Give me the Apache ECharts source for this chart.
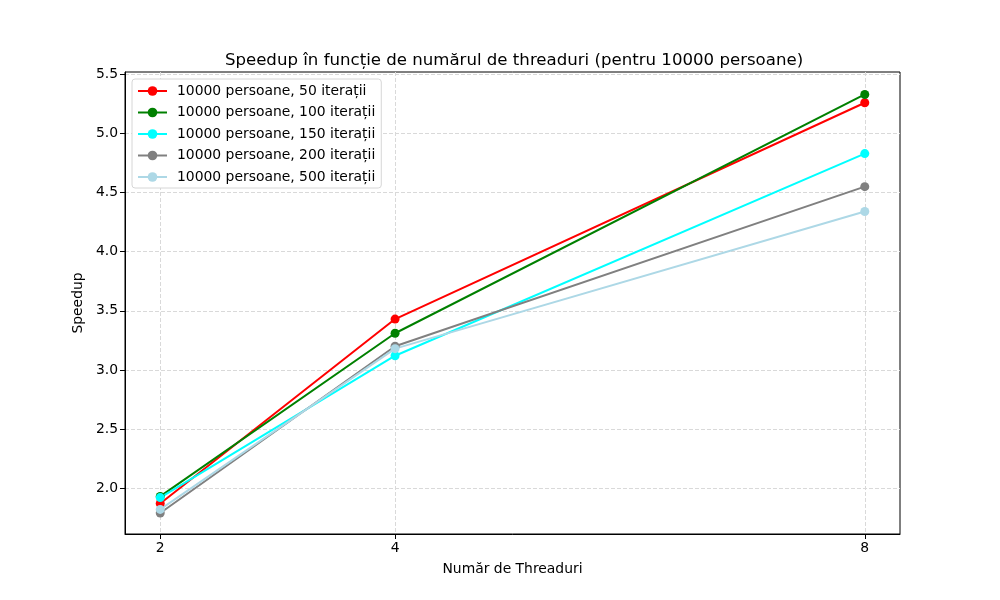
<!DOCTYPE html>
<html lang="ro">
<head>
    <meta charset="UTF-8">
    <title>Speedup</title>
    <script src="https://cdn.jsdelivr.net/npm/echarts@6/dist/echarts.min.js"></script>
    <style>
        html, body { margin: 0; padding: 0; background: #fff; }
        #graph { width: 1000px; height: 600px; }
    </style>
</head>
<body>
<div id="graph"></div>
<script>
    // data
    var threads = [2, 4, 8];
    var it50 = [1.87, 3.43, 5.26];
    var it100 = [1.93, 3.31, 5.33];
    var it150 = [1.92, 3.12, 4.83];
    var it200 = [1.79, 3.20, 4.55];
    var it500 = [1.82, 3.18, 4.34];
    var yTicks = [2.0, 2.5, 3.0, 3.5, 4.0, 4.5, 5.0, 5.5];

    var names = [
        '10000 persoane, 50 iterații',
        '10000 persoane, 100 iterații',
        '10000 persoane, 150 iterații',
        '10000 persoane, 200 iterații',
        '10000 persoane, 500 iterații'
    ];
    var colors = ['#ff0000', '#008000', '#00ffff', '#808080', '#add8e6'];
    var values = [it50, it100, it150, it200, it500];

    function pairs(arr) {
        return threads.map(function (t, i) { return [t, arr[i]]; });
    }

    var font = 'DejaVu Sans';
    var chart = echarts.init(document.getElementById('graph'));

    var option = {
        animation: false,
        textStyle: { fontFamily: font },
        title: {
            text: 'Speedup în funcție de numărul de threaduri (pentru 10000 persoane)',
            left: 509, textAlign: 'center',
            top: 47,
            textStyle: { fontFamily: font, fontSize: 16.6, fontWeight: 'normal', color: '#000' }
        },
        legend: {
            orient: 'vertical',
            left: 132, top: 79,
            data: names,
            itemWidth: 29, itemHeight: 12, itemGap: 7.5,
            backgroundColor: '#fff',
            borderColor: '#d6d6d6', borderWidth: 1, borderRadius: 3,
            padding: [5, 6, 4, 5],
            textStyle: { fontFamily: font, fontSize: 13.9, color: '#000', padding: [0, 0, 0, 5] }
        },
        grid: {
            left: 125, right: 100, top: 72, bottom: 66,
            show: true, borderColor: '#000', borderWidth: 1
        },
        xAxis: {
            type: 'value',
            min: 1.7, max: 8.3,
            name: 'Număr de Threaduri',
            nameLocation: 'middle', nameGap: 28,
            nameTextStyle: { fontFamily: font, fontSize: 13.9, color: '#000' },
            axisLine: { lineStyle: { color: '#000' } },
            axisTick: { length: 5, customValues: threads, lineStyle: { color: '#000' } },
            axisLabel: { customValues: threads, margin: 7, fontSize: 13.9, color: '#000', fontFamily: font },
            splitLine: { show: true, lineStyle: { color: '#d9d9d9', type: [4, 2] } }
        },
        yAxis: {
            type: 'value',
            min: 1.612, max: 5.52,
            name: 'Speedup',
            nameLocation: 'middle', nameGap: 38,
            nameTextStyle: { fontFamily: font, fontSize: 13.9, color: '#000' },
            axisLine: { show: true, lineStyle: { color: '#000' } },
            axisTick: { show: true, length: 5, customValues: yTicks, lineStyle: { color: '#000' } },
            axisLabel: {
                customValues: yTicks, margin: 7, fontSize: 13.9, color: '#000', fontFamily: font,
                formatter: function (v) { return v.toFixed(1); }
            },
            splitLine: { show: true, lineStyle: { color: '#d9d9d9', type: [4, 2] } }
        },
        series: names.map(function (n, i) {
            return {
                name: n,
                type: 'line',
                data: pairs(values[i]),
                symbol: 'circle',
                symbolSize: 9,
                itemStyle: { color: colors[i] },
                lineStyle: { color: colors[i], width: 2 }
            };
        })
    };

    chart.setOption(option);
</script>
</body>
</html>
